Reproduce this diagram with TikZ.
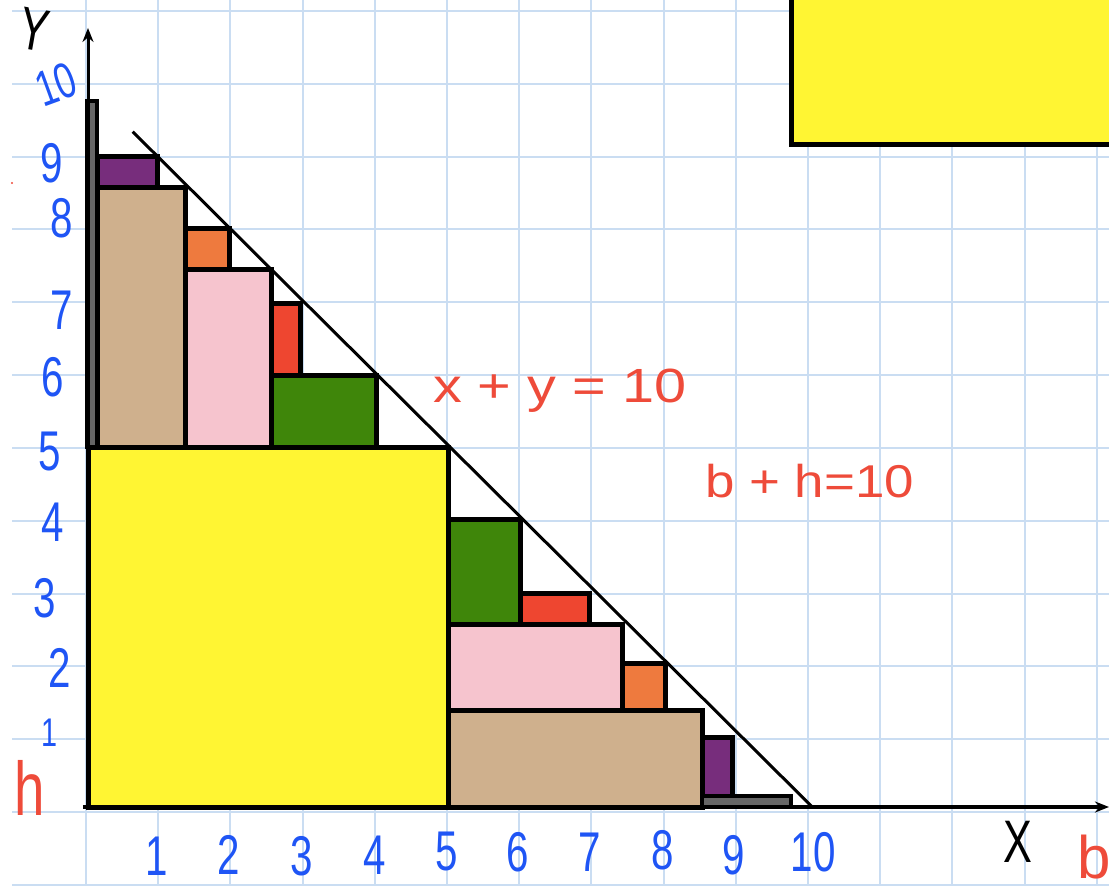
\documentclass[tikz,border=0pt]{standalone}
\usepackage{fontspec}
\setmainfont{Liberation Sans}
\usetikzlibrary{arrows.meta}
\definecolor{gridblue}{HTML}{CADDF2}
\definecolor{hwblue}{HTML}{1F55F5}
\definecolor{hwred}{HTML}{EE4B3A}
\definecolor{myyellow}{HTML}{FFF533}
\definecolor{mytan}{HTML}{CFB08D}
\definecolor{mypink}{HTML}{F6C4CE}
\definecolor{mygreen}{HTML}{3F860A}
\definecolor{myred}{HTML}{EE4630}
\definecolor{myorange}{HTML}{EE7A3E}
\definecolor{mypurple}{HTML}{772D7C}
\definecolor{mygrey}{HTML}{666666}
\newcommand{\narrowtxt}[1]{\scalebox{0.72}[1]{#1}}
\begin{document}
\begin{tikzpicture}[x=1pt,y=1pt,
  gridline/.style={draw=gridblue, line width=2pt},
  piece/.style={draw=black, line width=5pt, line join=miter},
  thinpiece/.style={draw=black, line width=4pt, line join=miter},
  axisline/.style={draw=black, line width=4pt, -{Stealth[length=14pt,width=11pt]}},
  bluelbl/.style={text=hwblue, font=\fontsize{56}{56}\selectfont, inner sep=0pt},
  redlbl/.style={text=hwred, inner sep=0pt},
  blacklbl/.style={text=black, font=\fontsize{60}{60}\selectfont, inner sep=0pt}]
\useasboundingbox (0,-886) rectangle (1109,0);
\clip (0,-886) rectangle (1109,0);
% grid
\foreach \k in {0,...,14} \draw[gridline] ({86+72.2*\k},0) -- ({86+72.2*\k},-886);
\foreach \k in {0,...,12} \draw[gridline] (12,{-11-72.83*\k}) -- (1109,{-11-72.83*\k});
% top-right yellow rectangle
\draw[piece, fill=myyellow] (791,-144) rectangle (1130,10);
\begin{scope}[shift={(88pt,-807pt)}, x=72pt, y=72pt]
  % big square
  \draw[piece, fill=myyellow] (0,0) rectangle (5,5);
  % upper-left triangle
  \draw[piece, fill=mytan] (0.13,5) rectangle (1.35,8.6);
  \draw[piece, fill=mypurple] (0.13,8.6) rectangle (0.97,9.04);
  \draw[piece, fill=mypink] (1.35,5) rectangle (2.55,7.46);
  \draw[piece, fill=myorange] (1.35,7.46) rectangle (1.97,8.03);
  \draw[piece, fill=mygreen] (2.55,5) rectangle (4.0,6);
  \draw[piece, fill=myred] (2.55,6) rectangle (2.95,7.0);
  \draw[thinpiece, fill=mygrey] (-0.02,5) rectangle (0.13,9.8);
  % lower-right triangle
  \draw[piece, fill=mytan] (5,0) rectangle (8.53,1.34);
  \draw[piece, fill=mypink] (5,1.34) rectangle (7.43,2.53);
  \draw[piece, fill=myorange] (7.43,1.34) rectangle (8.02,2.0);
  \draw[piece, fill=mygreen] (5,2.53) rectangle (6,3.99);
  \draw[piece, fill=myred] (6,2.53) rectangle (6.96,2.97);
  \draw[piece, fill=mypurple] (8.53,0.15) rectangle (8.95,0.97);
  \draw[thinpiece, fill=mygrey] (8.53,0) rectangle (9.77,0.15);
  % line x+y=10
  \coordinate (d1) at (0.62,9.38);
  \coordinate (d2) at (10.06,0);
  \draw[line width=3pt] (d1) -- (d2);
  % axes
  \coordinate (o) at (0,0);
  \coordinate (xo) at (-0.07,0);
  \coordinate (xe) at (14.18,0);
  \coordinate (ye) at (0,10.82);
  \draw[axisline] (xo) -- (xe);
  \draw[axisline, line width=3pt] (o) -- (ye);
\end{scope}
% y-axis labels
\node[blacklbl, rotate=-10] (Ylab) at (34,-30) {\narrowtxt{Y}};
\node[bluelbl, rotate=20, font=\fontsize{50}{50}\selectfont] (y10) at (56,-84) {\narrowtxt{10}};
\node[bluelbl] (y9) at (52,-163) {\narrowtxt{9}};
\node[bluelbl] (y8) at (62,-218) {\narrowtxt{8}};
\node[bluelbl] (y7) at (62,-310) {\narrowtxt{7}};
\node[bluelbl] (y6) at (53,-377) {\narrowtxt{6}};
\node[bluelbl] (y5) at (50,-452) {\narrowtxt{5}};
\node[bluelbl] (y4) at (53,-522) {\narrowtxt{4}};
\node[bluelbl] (y3) at (45,-598) {\narrowtxt{3}};
\node[bluelbl] (y2) at (60,-668) {\narrowtxt{2}};
\node[bluelbl, font=\fontsize{40}{40}\selectfont] (y1) at (50,-733) {\narrowtxt{1}};
\node[redlbl, font=\fontsize{76}{76}\selectfont] (hlab) at (30,-788) {\narrowtxt{h}};
\fill[hwred] (12,-183) circle (1.2);
% x-axis labels
\node[bluelbl] (x1) at (157,-856) {\narrowtxt{1}};
\node[bluelbl] (x2) at (229,-855) {\narrowtxt{2}};
\node[bluelbl] (x3) at (302,-856) {\narrowtxt{3}};
\node[bluelbl] (x4) at (375,-855) {\narrowtxt{4}};
\node[bluelbl] (x5) at (447,-852) {\narrowtxt{5}};
\node[bluelbl] (x6) at (518,-852) {\narrowtxt{6}};
\node[bluelbl] (x7) at (590,-852) {\narrowtxt{7}};
\node[bluelbl] (x8) at (663,-850) {\narrowtxt{8}};
\node[bluelbl] (x9) at (734,-855) {\narrowtxt{9}};
\node[bluelbl] (x10) at (813,-852) {\narrowtxt{10}};
\node[blacklbl] (Xlab) at (1018,-842) {\narrowtxt{X}};
\node[redlbl, font=\fontsize{60}{60}\selectfont, anchor=west] (blab) at (1077,-857) {b};
% equations
\node[redlbl, font=\fontsize{48}{48}\selectfont, anchor=base west] (eq1) at (433,-402) {\scalebox{1.2}[1]{x + y = 10}};
\node[redlbl, font=\fontsize{46}{46}\selectfont, anchor=base west] (eq2) at (705,-497) {\scalebox{1.15}[1]{b + h=10}};
\end{tikzpicture}
\end{document}
